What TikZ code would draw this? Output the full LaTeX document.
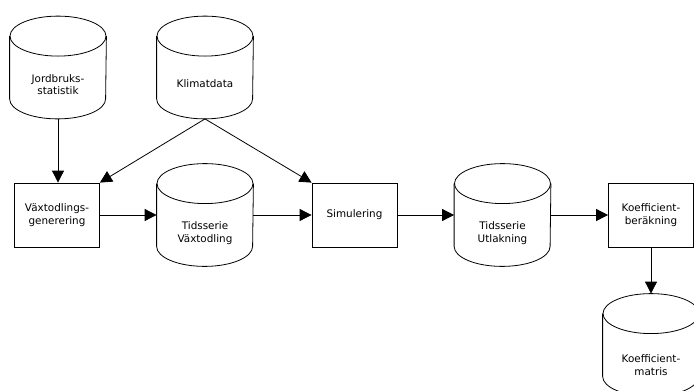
\documentclass[tikz,border=0pt]{standalone}
\usepackage{fontspec}
\setmainfont{DejaVu Sans}
\usetikzlibrary{arrows.meta,calc}
\tikzset{
  cylbox/.style={minimum width=96pt, minimum height=102pt, inner sep=0pt, draw=none},
  procbox/.style={draw, minimum width=85pt, minimum height=64pt, inner sep=2pt, align=center, font=\fontsize{10.4}{12.5}\selectfont},
  lbl/.style={align=center, font=\fontsize{10.4}{12.5}\selectfont, inner sep=0pt},
  flow/.style={-{Triangle[length=12pt,width=12pt]}},
}
\newcommand\cylshape[1]{%
  \draw ($(#1.north)+(0,20)$) ellipse [x radius=48pt, y radius=20pt];
  \draw ($(#1.north west)+(0,20)$) -- ($(#1.south west)+(0,-20)$)
    arc[start angle=180, end angle=360, x radius=48pt, y radius=20pt]
    -- ($(#1.north east)+(0,20)$);
}
\begin{document}
\begin{tikzpicture}[x=1pt,y=-1pt, line width=0.8pt]
\useasboundingbox (0,0) rectangle (694,391);
\clip (0,0) rectangle (694,391);
\fill[white] (0,0) rectangle (694,391);
% cylinders
\node[cylbox] (jord) at (58,67.5) {};
\node[cylbox] (klim) at (205,67.5) {};
\node[cylbox] (tsv) at (205,215) {};
\node[cylbox] (tsu) at (502.5,215) {};
\node[cylbox] (kmat) at (651,345) {};
\foreach \n in {jord,klim,tsv,tsu,kmat}{\cylshape{\n}}
\node[lbl] (jordt) at ($(jord.center)+(0,17)$) {Jordbruks-\\statistik};
\node[lbl] (klimt) at ($(klim.center)+(0,16)$) {Klimatdata};
\node[lbl] (tsvt) at ($(tsv.center)+(0,18)$) {Tidsserie\\Växtodling};
\node[lbl] (tsut) at ($(tsu.center)+(0,18)$) {Tidsserie\\Utlakning};
\node[lbl] (kmatt) at ($(kmat.center)+(0,20)$) {Koefficient-\\matris};
% process boxes
\node[procbox] (vax) at (57,215) {Växtodlings-\\generering};
\node[procbox] (sim) at (354.5,215) {Simulering};
\node[procbox] (koef) at (651,215) {Koefficient-\\beräkning};
% connectors
\draw[flow] (jord.south) -- (jord.south |- vax.north);
\draw[flow] (klim.south) -- (vax.north east);
\draw[flow] (klim.south) -- (sim.north west);
\draw[flow] (vax.east) -- (tsv.west);
\draw[flow] (tsv.east) -- (sim.west);
\draw[flow] (sim.east) -- (tsu.west);
\draw[flow] (tsu.east) -- (koef.west);
\draw[flow] (koef.south) -- (kmat.north);
\end{tikzpicture}
\end{document}
